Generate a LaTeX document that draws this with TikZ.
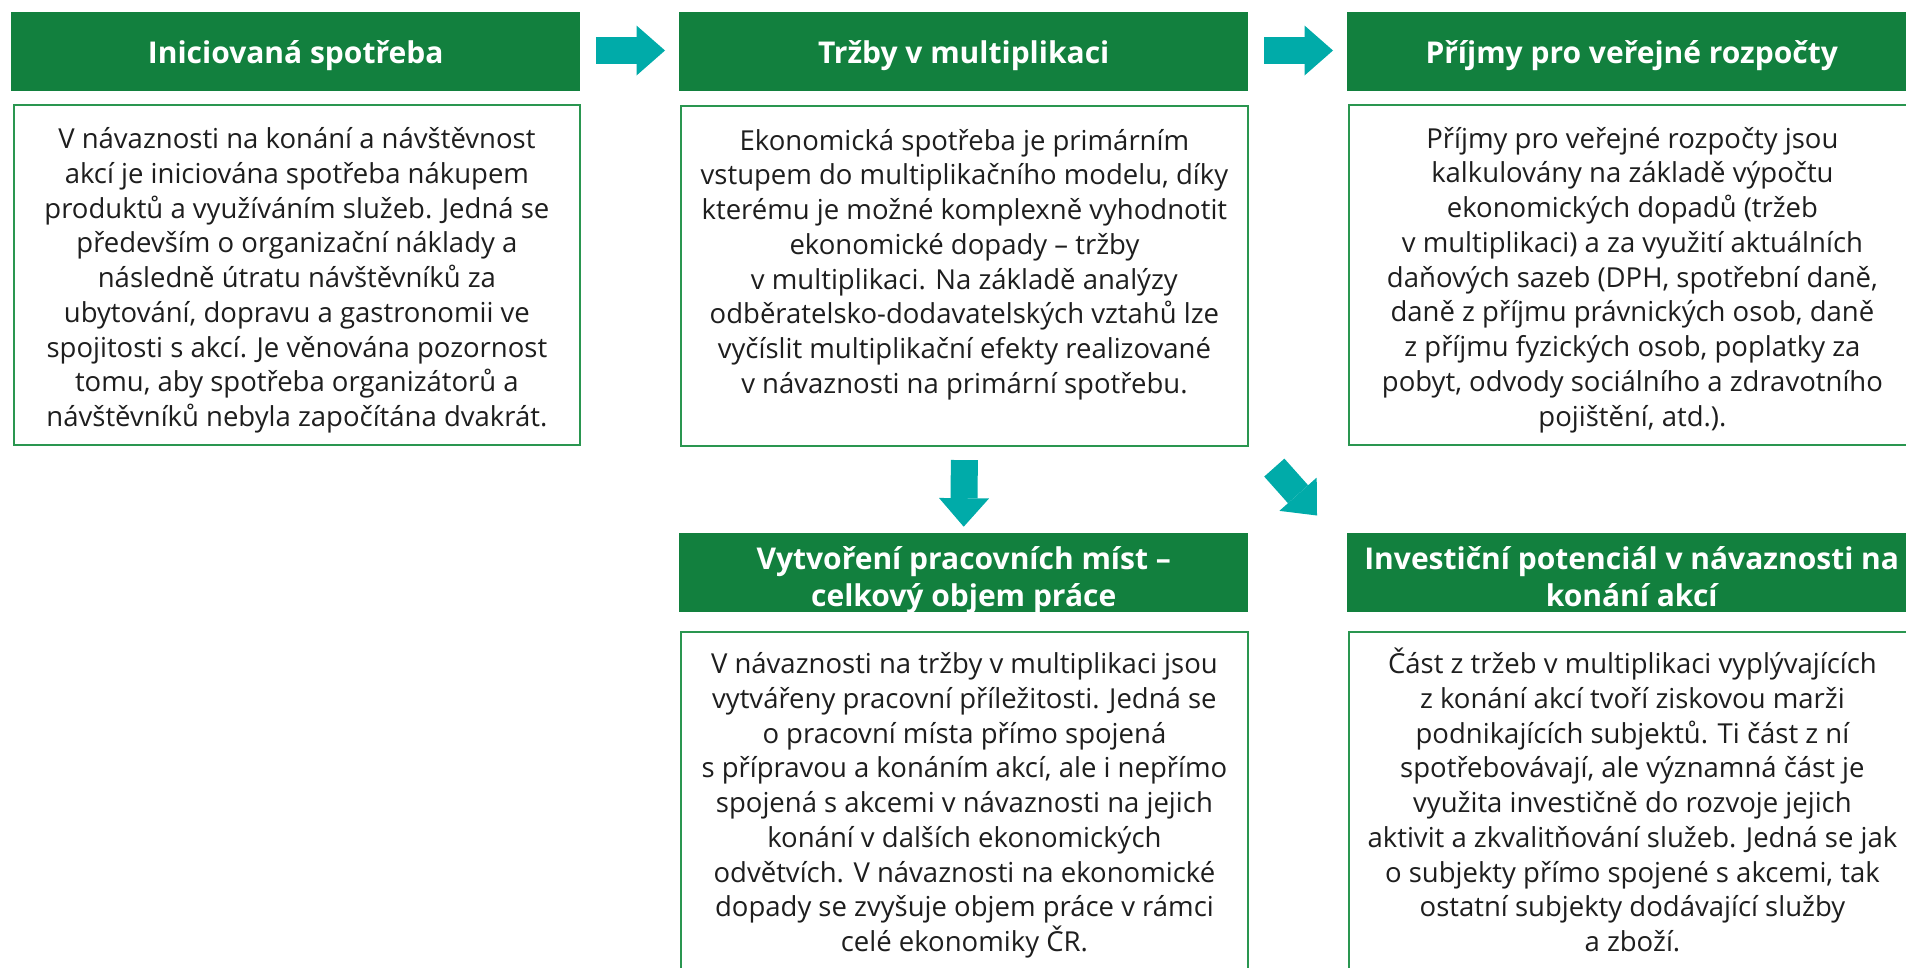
\documentclass[tikz,border=0pt]{standalone}
\usepackage{fontspec}
\setmainfont{Open Sans}
\usetikzlibrary{arrows.meta}
\definecolor{hdr}{RGB}{18,128,62}
\definecolor{brd}{RGB}{42,150,80}
\definecolor{arr}{RGB}{0,171,169}
\definecolor{txt}{RGB}{30,30,30}
\newcommand{\hdtop}{\rule{0pt}{32pt}}
\newcommand{\hdtopb}{\rule{0pt}{30.5pt}}
\newcommand{\hdbot}{\rule[-8pt]{0pt}{8pt}}
\begin{document}
\begin{tikzpicture}[x=1pt,y=-1pt,
  hdrbox/.style={fill=hdr, draw=none, minimum width=569pt, minimum height=79pt, inner sep=0pt, anchor=north west, text=white, align=center, font=\fontsize{30}{37.5}\selectfont\bfseries},
  hdrtwo/.style={hdrbox, text depth=0pt},
  bodybox/.style={draw=brd, line width=1.8pt, fill=white, minimum width=567pt, minimum height=340pt, anchor=north west, inner sep=0pt},
  bodytext/.style={anchor=north, inner sep=0pt, align=center, text=txt, font=\fontsize{27.5}{34.75}\selectfont},
  blockarrow/.style={draw=arr, line width=27pt, -{Triangle[length=28.5pt,width=50pt,line width=0pt]}},
]
\useasboundingbox (0,0) rectangle (1906,967);
\clip (0,0) rectangle (1906,967);
% headers
\node[hdrbox] (h1) at (11,12) {\hdtop Iniciovaná spotřeba\hdbot};
\node[hdrbox] (h2) at (679,12) {\hdtop Tržby v multiplikaci\hdbot};
\node[hdrbox] (h3) at (1347,12) {\hdtop Příjmy pro veřejné rozpočty\hdbot};
\node[hdrtwo] (h4) at (679,533) {\hdtopb Vytvoření pracovních míst –\\celkový objem práce};
\node[hdrtwo] (h5) at (1347,533) {\hdtopb Investiční potenciál v návaznosti na\\konání akcí};
% body boxes
\node[bodybox, minimum width=566pt] (b1) at (13,104) {};
\node[bodybox] (b2) at (680,105) {};
\node[bodybox] (b3) at (1348,104) {};
\node[bodybox, minimum height=370pt] (b4) at (680,631) {};
\node[bodybox, minimum height=370pt] (b5) at (1348,631) {};
% body texts
\node[bodytext] (t1) at ([yshift=-16.5pt]b1.north) {\rule{0pt}{28pt}V návaznosti na konání a návštěvnost\\akcí je iniciována spotřeba nákupem\\produktů a využíváním služeb. Jedná se\\především o organizační náklady a\\následně útratu návštěvníků za\\ubytování, dopravu a gastronomii ve\\spojitosti s akcí. Je věnována pozornost\\tomu, aby spotřeba organizátorů a\\návštěvníků nebyla započítána dvakrát.};
\node[bodytext] (t2) at ([yshift=-17pt]b2.north) {\rule{0pt}{28pt}Ekonomická spotřeba je primárním\\vstupem do multiplikačního modelu, díky\\kterému je možné komplexně vyhodnotit\\ekonomické dopady – tržby\\v multiplikaci. Na základě analýzy\\odběratelsko-dodavatelských vztahů lze\\vyčíslit multiplikační efekty realizované\\v návaznosti na primární spotřebu.};
\node[bodytext] (t3) at ([yshift=-16pt]b3.north) {\rule{0pt}{28pt}Příjmy pro veřejné rozpočty jsou\\kalkulovány na základě výpočtu\\ekonomických dopadů (tržeb\\v multiplikaci) a za využití aktuálních\\daňových sazeb (DPH, spotřební daně,\\daně z příjmu právnických osob, daně\\z příjmu fyzických osob, poplatky za\\pobyt, odvody sociálního a zdravotního\\pojištění, atd.).};
\node[bodytext] (t4) at ([yshift=-14.5pt]b4.north) {\rule{0pt}{28pt}V návaznosti na tržby v multiplikaci jsou\\vytvářeny pracovní příležitosti. Jedná se\\o pracovní místa přímo spojená\\s přípravou a konáním akcí, ale i nepřímo\\spojená s akcemi v návaznosti na jejich\\konání v dalších ekonomických\\odvětvích. V návaznosti na ekonomické\\dopady se zvyšuje objem práce v rámci\\celé ekonomiky ČR.};
\node[bodytext] (t5) at ([yshift=-14.5pt]b5.north) {\rule{0pt}{28pt}Část z tržeb v multiplikaci vyplývajících\\z konání akcí tvoří ziskovou marži\\podnikajících subjektů. Ti část z ní\\spotřebovávají, ale významná část je\\využita investičně do rozvoje jejich\\aktivit a zkvalitňování služeb. Jedná se jak\\o subjekty přímo spojené s akcemi, tak\\ostatní subjekty dodávající služby\\a zboží.};
% arrows
\draw[blockarrow] ([xshift=15.5pt,yshift=1.2pt]h1.east) -- ([xshift=-14pt,yshift=1.2pt]h2.west);
\draw[blockarrow] ([xshift=16pt,yshift=1.2pt]h2.east) -- ([xshift=-14pt,yshift=1.2pt]h3.west);
\draw[blockarrow] ([yshift=-13.3pt]b2.south) -- ([yshift=6.3pt]h4.north);
\draw[blockarrow] ([xshift=25.5pt,yshift=-20.8pt]b2.south east) -- ([xshift=-30pt,yshift=17.5pt]h5.north west);
\end{tikzpicture}
\end{document}
